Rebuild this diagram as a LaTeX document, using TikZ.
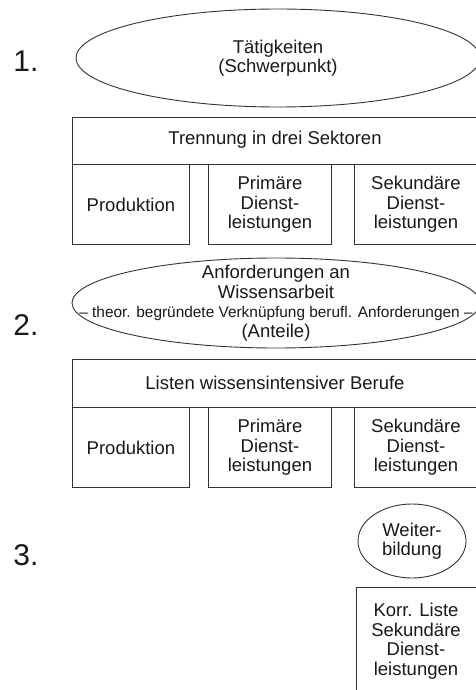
\documentclass[tikz,border=0pt]{standalone}
\usepackage{fontspec}
\setmainfont{Liberation Sans}
\usepackage{tikz}
\usetikzlibrary{shapes.geometric, positioning}

\newcommand{\boxfont}{\fontsize{18.5}{19.5}\selectfont}
\newcommand{\notefont}{\fontsize{15.4}{19.5}\selectfont}

\tikzset{
    sector/.style={draw=black!80, line width=0.9pt, inner sep=0pt, align=center, font=\boxfont, text=black!90},
    focus/.style={ellipse, draw=black!80, line width=0.9pt, inner sep=0pt, align=center, font=\boxfont, text=black!90},
    stage/.style={inner sep=0pt, font=\fontsize{30}{30}\selectfont, text=black!90}
}

\begin{document}
\begin{tikzpicture}[x=1pt, y=-1pt]
    \clip (0,0) rectangle (476,690);

    % Stage numbers
    \foreach \s/\y in {1/61, 2/325, 3/555} {
        \node[stage] (stage\s) at (26,\y) {\s.};
    }

    % Stage 1: activities
    \node[focus, minimum width=404pt, minimum height=98pt] (act) at (278,58) {Tätigkeiten\\(Schwerpunkt)};
    \node[sector, anchor=north west, minimum width=410pt, minimum height=47pt] (sec1) at (72,117) {};
    \node[font=\boxfont, text=black!90, inner sep=0pt] (sec1text) at (275,140) {Trennung in drei Sektoren};

    % Stage 2: requirements
    \node[focus, minimum width=408pt, minimum height=90pt] (req) at (276,303) {};
    \node[align=center, font=\boxfont, text=black!90, inner sep=0pt] (reqtext) at (req.center)
        {Anforderungen an\\Wissensarbeit\\{\notefont – theor. begründete Verknüpfung berufl. Anforderungen –}\\(Anteile)};
    \node[sector, anchor=north west, minimum width=410pt, minimum height=48pt] (sec2) at (72,359) {};
    \node[font=\boxfont, text=black!90, inner sep=0pt] (sec2text) at (275,383) {Listen wissensintensiver Berufe};

    % Sector boxes below both headers
    \foreach \s/\y in {1/164, 2/407} {
        \foreach \n/\x/\w/\txt in {prod/72/117/Produktion, prim/208/123/{Primäre\\Dienst-\\leistungen}, sek/354/128/{}} {
            \node[sector, anchor=north west, minimum width=\w pt, minimum height=80pt] (\n\s) at (\x,\y) {\txt};
        }
        \node[align=center, font=\boxfont, text=black!90, inner sep=0pt] (sektext\s) at ([xshift=-2.5pt]sek\s.center) {Sekundäre\\Dienst-\\leistungen};
    }

    % Stage 3: further training
    \node[focus, minimum width=108pt, minimum height=74pt] (train) at (412,541) {Weiter-\\bildung};
    \node[sector, anchor=north west, minimum width=126pt, minimum height=110pt] (korr) at (356,587) {};
    \node[align=center, font=\boxfont, text=black!90, inner sep=0pt] (korrtext) at (416,641) {Korr. Liste\\Sekundäre\\Dienst-\\leistungen};
\end{tikzpicture}
\end{document}
